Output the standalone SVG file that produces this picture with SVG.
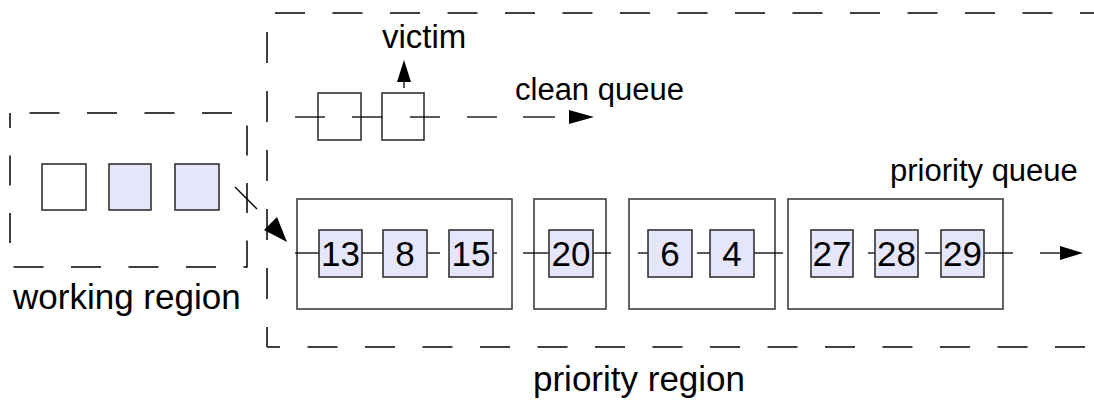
<svg xmlns="http://www.w3.org/2000/svg" width="1094" height="401" viewBox="0 0 1094 401">
<style>
text{font-family:"Liberation Sans",Arial,sans-serif;fill:#000}
.lbl{font-size:31px}
.big{font-size:35px}
.num{font-size:35px;text-anchor:middle}
.cell{fill:#e6e6fa;stroke:#333;stroke-width:1.6}
.empty{fill:#fff;stroke:#333;stroke-width:1.6}
.outer{fill:none;stroke:#333;stroke-width:1.5}
.dash{fill:none;stroke:#000;stroke-width:1.5;stroke-dasharray:30 27.5}
.ln{stroke:#000;stroke-width:1.3;fill:none}
.head{fill:#000}
</style>
<rect width="1094" height="401" fill="#fff"/>

<g id="working-region">
<rect x="10" y="113" width="237" height="154" class="dash" style="stroke-dashoffset:38"/>
<rect x="42" y="164" width="44" height="46" class="empty"/>
<rect x="109" y="164" width="42" height="46" class="cell"/>
<rect x="175" y="164" width="44" height="46" class="cell"/>
<text x="13" y="309" class="big">working region</text>
</g>

<g id="priority-region">
<line x1="275" y1="13" x2="1094" y2="13" class="dash"/>
<line x1="267" y1="32" x2="267" y2="347" class="dash" style="stroke-dasharray:31 28"/>
<line x1="267" y1="347" x2="1094" y2="347" class="dash" style="stroke-dashoffset:17"/>
<text x="533" y="391" class="big">priority region</text>
</g>

<g id="clean-queue">
<rect x="318" y="93" width="43" height="47" class="empty"/>
<rect x="382" y="93" width="42" height="47" class="empty"/>
<text x="382" y="48" style="font-size:33px">victim</text>
<text x="515" y="100" class="lbl">clean queue</text>
</g>

<g id="group-1">
<rect x="297" y="199" width="215" height="110" class="outer"/>
</g>
<g id="group-2">
<rect x="534" y="199" width="72" height="110" class="outer"/>
</g>
<g id="group-3">
<rect x="629" y="199" width="146" height="110" class="outer"/>
</g>
<g id="group-4">
<rect x="788" y="199" width="215" height="110" class="outer"/>
<text x="890" y="181" class="lbl">priority queue</text>
</g>

<g id="connectors">
<!-- clean queue -->
<line x1="295" y1="117" x2="325" y2="117" class="ln"/>
<line x1="352" y1="117" x2="382" y2="117" class="ln"/>
<line x1="410" y1="117" x2="440" y2="117" class="ln"/>
<line x1="467" y1="117" x2="497" y2="117" class="ln"/>
<line x1="523" y1="117" x2="555" y2="117" class="ln"/>
<polygon points="569,110 594,117 569,124" class="head"/>
<!-- victim -->
<line x1="404" y1="88" x2="404" y2="78" class="ln"/>
<polygon points="404,60 411,82 397,82" class="head"/>
<!-- working to priority -->
<line x1="235" y1="187" x2="257" y2="209" class="ln"/>
<polygon points="287,242 264,230 277,217" class="head"/>
<!-- priority queue chain -->
<line x1="295" y1="253" x2="319" y2="253" class="ln"/>
<line x1="362" y1="253" x2="383" y2="253" class="ln"/>
<line x1="427" y1="253" x2="440" y2="253" class="ln"/>
<line x1="493" y1="253" x2="497" y2="253" class="ln"/>
<line x1="523" y1="253" x2="549" y2="253" class="ln"/>
<line x1="593" y1="253" x2="611" y2="253" class="ln"/>
<line x1="638" y1="253" x2="648" y2="253" class="ln"/>
<line x1="697" y1="253" x2="710" y2="253" class="ln"/>
<line x1="754" y1="253" x2="783" y2="253" class="ln"/>
<line x1="868" y1="253" x2="875" y2="253" class="ln"/>
<line x1="925" y1="253" x2="941" y2="253" class="ln"/>
<line x1="984" y1="253" x2="1013" y2="253" class="ln"/>
<line x1="1040" y1="253" x2="1062" y2="253" class="ln"/>
<polygon points="1060,246 1083,253 1060,260" class="head"/>
</g>

<g id="n13"><rect x="319" y="230" width="43" height="47" class="cell"/><text x="340.5" y="266" class="num">13</text></g>
<g id="n8"><rect x="383" y="230" width="44" height="47" class="cell"/><text x="405" y="266" class="num">8</text></g>
<g id="n15"><rect x="449" y="230" width="44" height="47" class="cell"/><text x="471" y="266" class="num">15</text></g>
<g id="n20"><rect x="549" y="230" width="44" height="47" class="cell"/><text x="571" y="266" class="num">20</text></g>
<g id="n6"><rect x="648" y="230" width="44" height="47" class="cell"/><text x="670" y="266" class="num">6</text></g>
<g id="n4"><rect x="710" y="230" width="44" height="47" class="cell"/><text x="732" y="266" class="num">4</text></g>
<g id="n27"><rect x="811" y="230" width="42" height="47" class="cell"/><text x="832" y="266" class="num">27</text></g>
<g id="n28"><rect x="875" y="230" width="43" height="47" class="cell"/><text x="896.5" y="266" class="num">28</text></g>
<g id="n29"><rect x="941" y="230" width="43" height="47" class="cell"/><text x="962.5" y="266" class="num">29</text></g>
</svg>
